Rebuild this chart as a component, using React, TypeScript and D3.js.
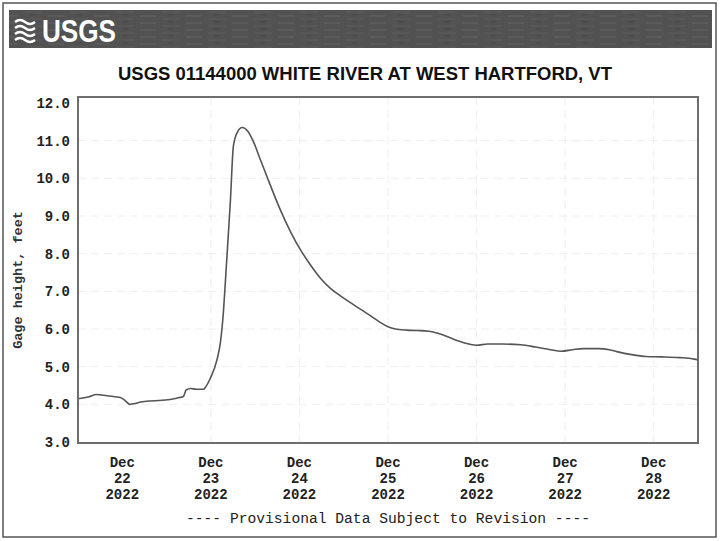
import * as d3 from "d3";

// hours after Dec 21 2022 12:00
const hours = [0, 3, 5, 7, 10, 11.5, 13, 14, 15.5, 17, 19.5, 22, 25, 27.5, 28.5, 29.3, 30.5, 32, 34, 34.5, 35.8, 37.7, 38.6, 39.4, 39.9, 40.6, 41.3, 42.1, 43.2, 44.5, 46, 47.5, 49.4, 52.1, 54.8, 57.6, 60.3, 63, 65.7, 68.4, 71.1, 73.8, 76.6, 79.3, 82, 84, 86, 89, 92, 95, 97, 100, 102.5, 105, 108, 111, 115, 120, 124, 128, 131, 134, 137, 141, 144, 146, 150, 154, 158, 163, 167, 168];
const gageHeight = [4.15, 4.2, 4.26, 4.24, 4.2, 4.18, 4.08, 4.0, 4.02, 4.06, 4.09, 4.1, 4.13, 4.18, 4.2, 4.38, 4.42, 4.4, 4.4, 4.45, 4.68, 5.2, 5.65, 6.45, 7.2, 8.3, 9.42, 10.85, 11.23, 11.35, 11.25, 10.98, 10.5, 9.82, 9.17, 8.58, 8.1, 7.7, 7.35, 7.08, 6.88, 6.7, 6.52, 6.35, 6.17, 6.06, 6.0, 5.97, 5.96, 5.94, 5.9, 5.8, 5.7, 5.62, 5.57, 5.6, 5.6, 5.58, 5.52, 5.45, 5.41, 5.45, 5.48, 5.48, 5.45, 5.4, 5.32, 5.27, 5.26, 5.24, 5.2, 5.18];
const yTicks = [3, 4, 5, 6, 7, 8, 9, 10, 11, 12];
const dayLabels = ["22", "23", "24", "25", "26", "27", "28"];

const start = new Date(2022, 11, 21, 12);
const end = new Date(2022, 11, 28, 12);

const L = 78, R = 698, T = 97, B = 443;

export default function App() {
  const x = d3.scaleTime().domain([start, end]).range([L, R]);
  const y = d3.scaleLinear().domain([3, 12]).range([442, 103]);

  const pts: [Date, number][] = hours.map((h, i) => [new Date(start.getTime() + h * 3600e3), gageHeight[i]]);
  const line = d3.line<[Date, number]>().x(d => x(d[0])).y(d => y(d[1])).curve(d3.curveMonotoneX);

  const days = dayLabels.map(d => new Date(2022, 11, +d));
  const noons = d3.timeDay.range(start, end).map(d => new Date(d.getTime() + 24 * 3600e3)).filter(d => d < end);

  const mono = "'Liberation Mono', 'DejaVu Sans Mono', monospace";

  return (
    <svg width={720} height={541} style={{ position: "absolute", left: 0, top: 0, background: "#fff" }}>
      <defs>
        <pattern id="tex" width="46" height="7" patternUnits="userSpaceOnUse">
          <rect width="46" height="7" fill="#525252" />
          <line x1="2" y1="2" x2="18" y2="2" stroke="#626262" strokeWidth="1" />
          <line x1="24" y1="5" x2="42" y2="5" stroke="#5c5c5c" strokeWidth="1" />
          <line x1="30" y1="1" x2="36" y2="1" stroke="#474747" strokeWidth="1" />
        </pattern>
      </defs>
      <rect x={3} y={3} width={713} height={534} fill="none" stroke="#555" strokeWidth={1.5} />

      {/* header bar */}
      <rect x={9} y={10} width={703} height={38} fill="url(#tex)" />
      <g fill="none" stroke="#fff" strokeWidth={2.4}>
        <path d="M15,22 q5,-4 10,0 t10,0" />
        <path d="M15,28 q5,-4 10,0 t10,0" />
        <path d="M15,34 q5,-4 10,0 t10,0" />
        <path d="M15,40 q5,-4 10,0 t10,0" />
      </g>
      <text x={42} y={42} fill="#fff" fontFamily="'Liberation Sans Narrow', 'Liberation Sans', Arial, sans-serif" fontWeight="bold" fontSize={32} textLength={74} lengthAdjust="spacingAndGlyphs">USGS</text>

      <text x={365} y={80} textAnchor="middle" fontFamily="'Liberation Sans', Arial, sans-serif" fontWeight="bold" fontSize={19} textLength={494} lengthAdjust="spacingAndGlyphs" fill="#111">USGS 01144000 WHITE RIVER AT WEST HARTFORD, VT</text>

      {/* grid */}
      <g stroke="#eeeeee" strokeWidth={1} strokeDasharray="8,5">
        {yTicks.slice(1, -1).map(t => <line key={t} x1={L} x2={R} y1={y(t)} y2={y(t)} />)}
        {noons.map((d, i) => <line key={i} x1={x(d)} x2={x(d)} y1={T} y2={B} />)}
      </g>

      <path d={line(pts) || ""} fill="none" stroke="#555" strokeWidth={1.6} />

      <rect x={L} y={T} width={R - L} height={B - T} fill="none" stroke="#6e6e6e" strokeWidth={2} />

      {/* y axis */}
      <g fontFamily={mono} fontWeight="bold" fontSize={14} fill="#222" textAnchor="end">
        {yTicks.map(t => <text key={t} x={70} y={y(t) + 5}>{t.toFixed(1)}</text>)}
      </g>
      <text transform="translate(22,280) rotate(-90)" textAnchor="middle" fontFamily={mono} fontWeight="bold" fontSize={13.5} fill="#333">Gage height, feet</text>

      {/* x axis */}
      <g fontFamily={mono} fontWeight="bold" fontSize={14} fill="#222" textAnchor="middle">
        {days.map((d, i) => (
          <g key={i}>
            <text x={x(d)} y={467}>Dec</text>
            <text x={x(d)} y={483}>{dayLabels[i]}</text>
            <text x={x(d)} y={499}>2022</text>
          </g>
        ))}
      </g>
      <text x={388} y={523} textAnchor="middle" fontFamily={mono} fontSize={14.5} fill="#222" textLength={404} lengthAdjust="spacingAndGlyphs">---- Provisional Data Subject to Revision ----</text>
    </svg>
  );
}
